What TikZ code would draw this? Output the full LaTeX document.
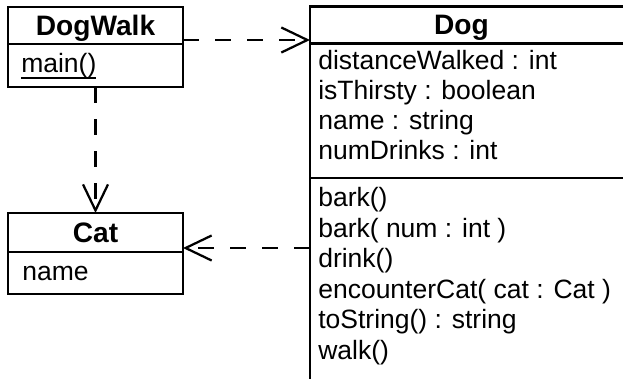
\documentclass[tikz,border=0pt]{standalone}
\usepackage{fontspec}
\setmainfont{Liberation Sans}
\usetikzlibrary{arrows.meta}

% underline with a heavier rule
\newcommand\thickul[1]{\setbox0\hbox{#1}\rlap{\raisebox{-4pt}{\rule{\wd0}{1.2pt}}}\box0}

\begin{document}
\begin{tikzpicture}[x=0.025cm, y=-0.025cm,
  box/.style={draw, line width=1.6pt, inner sep=0pt, outer sep=0pt},
  title/.style={inner sep=0pt, anchor=base, font=\fontsize{20pt}{24pt}\selectfont\bfseries},
  member/.style={inner sep=0pt, anchor=base west, font=\fontsize{18.85pt}{22pt}\selectfont},
  dep/.style={line width=1.6pt, dash pattern=on 0.4cm off 0.4cm, -{Straight Barb[length=0.65cm, width=0.625cm]}}]
\path[use as bounding box, fill=white] (0,0) rectangle (623,379);
\clip (0,0) rectangle (623,379);

% DogWalk
\node[box, minimum width=4.375cm, minimum height=0.925cm] (dogwalk) at (95.5,25.5){};
\node[box, minimum width=4.375cm, minimum height=1.075cm, anchor=north] (dogwalkops) at (dogwalk.south){};
\node[title] (dogwalkname) at (95.5,35.5){DogWalk};
\node[member] (main) at (21,73){\thickul{main()}};

% Cat
\node[box, minimum width=4.375cm, minimum height=0.975cm] (cat) at (95.5,232.5){};
\node[box, minimum width=4.375cm, minimum height=1.05cm, anchor=north] (catattrs) at (cat.south){};
\node[title] (catname) at (95.5,242.5){Cat};
\node[member] (catattr1) at (22,281){name};

% Dog (wider and taller than the page, gets clipped)
\node[box, minimum width=8.5cm, minimum height=0.925cm] (dog) at (480,25){};
\node[box, minimum width=8.5cm, minimum height=3.3625cm, anchor=north] (dogattrs) at (dog.south){};
\node[box, minimum width=8.5cm, minimum height=6.05cm, anchor=north] (dogops) at (dogattrs.south){};
\node[title] (dogname) at (461.5,34.5){Dog};
\foreach \m [count=\i] in {distanceWalked : int, isThirsty : boolean, name : string, numDrinks : int}
  \node[member] (attr\i) at (318,40+30*\i){\m};
\foreach \m [count=\i] in {bark(), bark( num : int ), drink(), encounterCat( cat : Cat ), toString() : string, walk()}
  \node[member] (op\i) at (318,176.6+30.4*\i){\m};

% dependencies
\draw[dep] ([yshift=0.1cm]dogwalk.south east) -- ([yshift=0.1cm]dogwalk.south east -| dog.west);
\draw[dep] (dogwalkops.south) -- (cat.north);
\draw[dep] ([yshift=0.1cm]cat.south east -| dogops.west) -- ([yshift=0.1cm]cat.south east);
\end{tikzpicture}
\end{document}
